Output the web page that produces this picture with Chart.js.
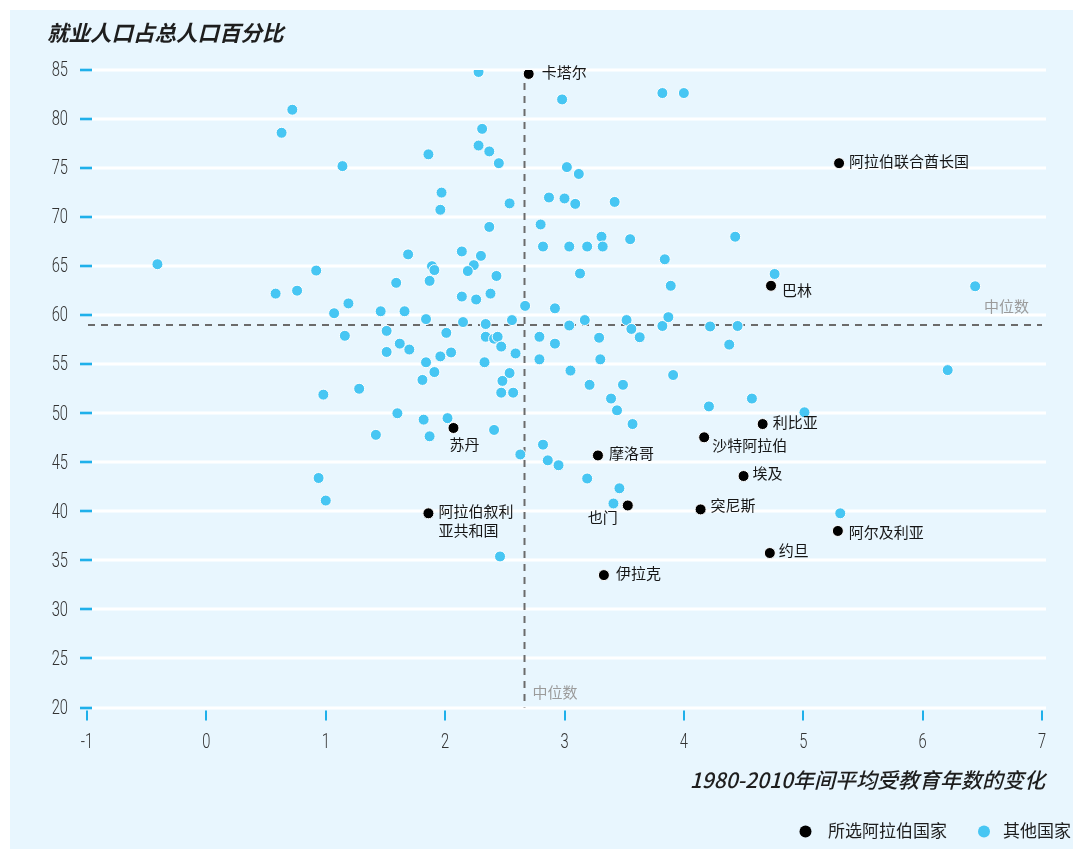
<!DOCTYPE html>
<html>
<head>
<meta charset="utf-8">
<title>就业人口占总人口百分比</title>
<script src="https://cdn.jsdelivr.net/npm/chart.js@4.4.1/dist/chart.umd.min.js"></script>
<style>
  html, body { margin: 0; padding: 0; background: #ffffff; }
  canvas { display: block; }
</style>
</head>
<body>
<canvas id="chart" width="1073" height="849"></canvas>
<script>
// ---- data -------------------------------------------------------------
const arabNames = ['卡塔尔', '阿拉伯联合酋长国', '巴林', '利比亚', '沙特阿拉伯', '摩洛哥', '埃及',
  '突尼斯', '也门', '阿尔及利亚', '约旦', '伊拉克', '苏丹', '阿拉伯叙利亚共和国'];
const arabX = [2.70, 5.30, 4.73, 4.66, 4.17, 3.28, 4.50, 4.14, 3.53, 5.29, 4.72, 3.33, 2.07, 1.86];
const arabY = [84.6, 75.5, 63.0, 48.9, 47.55, 45.7, 43.6, 40.2, 40.6, 38.0, 35.75, 33.5, 48.5, 39.8];

const otherX = [2.28, 0.72, 0.63, 1.14, 2.31, 2.28, 2.37, 2.45, 1.86, 1.97, 1.96, 2.54, 2.37, 2.80, 2.82,
  -0.41, 0.92, 0.58, 0.76, 1.69, 1.89, 1.91, 1.59, 1.87, 2.14, 2.30, 2.24, 2.19, 2.43, 2.14, 2.26, 2.38,
  2.67, 2.92, 1.19, 1.07, 1.46, 1.66, 1.84, 2.15, 2.34, 2.56, 2.79, 1.16, 1.51, 2.01, 2.34, 2.41, 2.44,
  2.47, 2.92, 1.62, 1.70, 1.51, 1.84, 1.96, 2.05, 1.91, 1.81, 2.33, 2.59, 2.79, 2.54, 2.48, 2.47, 2.57,
  0.98, 1.28, 1.60, 1.82, 2.02, 1.42, 1.87, 2.41, 2.63, 2.82, 2.86, 2.95, 0.94, 1.00, 2.46, 2.98, 3.82,
  4.00, 3.02, 3.12, 2.87, 3.00, 3.09, 3.42, 3.04, 3.19, 3.31, 3.32, 3.55, 4.43, 3.84, 3.13, 3.89, 4.76,
  3.04, 3.17, 3.52, 3.56, 3.63, 3.82, 3.87, 4.22, 4.45, 4.38, 3.29, 3.30, 3.05, 3.21, 3.49, 3.91, 3.39,
  3.44, 3.57, 4.21, 4.57, 3.41, 3.46, 3.19, 6.44, 6.21, 5.01, 5.31];
const otherY = [84.8, 80.95, 78.6, 75.2, 79.0, 77.3, 76.7, 75.5, 76.4, 72.5, 70.75, 71.4, 69.0, 69.25, 67.0,
  65.2, 64.55, 62.2, 62.5, 66.2, 65.0, 64.6, 63.3, 63.5, 66.5, 66.05, 65.1, 64.5, 64.0, 61.9, 61.6, 62.2,
  60.95, 60.7, 61.2, 60.2, 60.4, 60.4, 59.6, 59.3, 59.1, 59.5, 57.8, 57.9, 58.4, 58.2, 57.8, 57.6, 57.8,
  56.8, 57.1, 57.1, 56.5, 56.25, 55.2, 55.8, 56.2, 54.2, 53.4, 55.2, 56.1, 55.5, 54.1, 53.3, 52.1, 52.1,
  51.9, 52.5, 50.0, 49.35, 49.5, 47.8, 47.65, 48.3, 45.8, 46.8, 45.2, 44.7, 43.4, 41.1, 35.4, 82.0, 82.65,
  82.65, 75.1, 74.4, 72.0, 71.9, 71.35, 71.55, 67.0, 67.0, 68.0, 67.0, 67.75, 68.0, 65.7, 64.25, 63.0, 64.2,
  58.95, 59.5, 59.5, 58.6, 57.75, 58.9, 59.8, 58.85, 58.9, 57.0, 57.7, 55.5, 54.35, 52.9, 52.9, 53.9, 51.5,
  50.3, 48.9, 50.7, 51.5, 40.8, 42.35, 43.35, 62.95, 54.4, 50.1, 39.8];

const medianX = 2.665;
const medianY = 59.0;

const xTickValues = [-1, 0, 1, 2, 3, 4, 5, 6, 7];
const yTickValues = [20, 25, 30, 35, 40, 45, 50, 55, 60, 65, 70, 75, 80, 85];

const seriesLabels = ['所选阿拉伯国家', '其他国家'];
const yTitle = '就业人口占总人口百分比';
const xTitle = '1980-2010年间平均受教育年数的变化';
const medianLabel = '中位数';

// ---- styling ----------------------------------------------------------
const CJK = "'Noto Sans CJK SC', 'Noto Sans', sans-serif";
const DIGITS = "Roboto, 'Open Sans', sans-serif";
const DIGIT_SQUEEZE = 0.7;          // narrow the tick numerals horizontally
const PANEL = '#e8f6fe';
const TICK_BLUE = '#1fb0ea';
const DOT_BLUE = '#47c6f3';

// where each country name sits relative to its dot (pixels)
const labelPlacement = {
  '卡塔尔': { dx: 13, dy: -1.5 },
  '阿拉伯联合酋长国': { dx: 10, dy: -2 },
  '巴林': { dx: 11, dy: 4.5 },
  '利比亚': { dx: 10, dy: -1.5 },
  '沙特阿拉伯': { dx: 8, dy: 8 },
  '摩洛哥': { dx: 11, dy: -2.5 },
  '埃及': { dx: 9, dy: -3 },
  '突尼斯': { dx: 10, dy: -4 },
  '也门': { dx: -10, dy: 11.5, align: 'right' },
  '阿尔及利亚': { dx: 11, dy: 1 },
  '约旦': { dx: 9, dy: -2.5 },
  '伊拉克': { dx: 12, dy: -1.5 },
  '苏丹': { dx: -4, dy: 16 },
  '阿拉伯叙利亚共和国': { dx: 10, dy: -2.5, wrap: 5, lineGap: 19 }
};

const toPoints = (xs, ys) => xs.map((v, i) => ({ x: v, y: ys[i] }));

// condensed numeral drawn at (px, py) with the given alignment
function drawNumber(ctx, text, px, py, align) {
  ctx.save();
  ctx.translate(px, py);
  ctx.scale(DIGIT_SQUEEZE, 1);
  ctx.textAlign = align;
  ctx.fillText(text, 0, 0);
  ctx.restore();
}

// ---- custom drawing: panel, grid, medians, titles, legend, labels ------
const decorations = {
  id: 'decorations',
  beforeDraw(chart) {
    const { ctx, scales: { x, y } } = chart;
    ctx.save();
    ctx.fillStyle = '#ffffff';
    ctx.fillRect(0, 0, chart.width, chart.height);
    ctx.fillStyle = PANEL;
    ctx.fillRect(10, 10, chart.width - 10, chart.height - 10);

    // horizontal white grid lines
    ctx.strokeStyle = '#ffffff';
    ctx.lineWidth = 3;
    y.ticks.forEach(t => {
      const py = Math.round(y.getPixelForValue(t.value));
      ctx.beginPath();
      ctx.moveTo(x.left + 5, py);
      ctx.lineTo(x.right + 4, py);
      ctx.stroke();
    });

    // blue tick marks
    ctx.strokeStyle = TICK_BLUE;
    ctx.lineWidth = 2.6;
    y.ticks.forEach(t => {
      const py = Math.round(y.getPixelForValue(t.value));
      ctx.beginPath();
      ctx.moveTo(x.left - 7, py);
      ctx.lineTo(x.left + 5, py);
      ctx.stroke();
    });
    ctx.lineWidth = 2;
    x.ticks.forEach(t => {
      const px = Math.round(x.getPixelForValue(t.value));
      ctx.beginPath();
      ctx.moveTo(px, y.bottom + 3);
      ctx.lineTo(px, y.bottom + 13);
      ctx.stroke();
    });

    // tick numerals
    ctx.fillStyle = '#333333';
    ctx.font = `300 21px ${DIGITS}`;
    ctx.textBaseline = 'middle';
    y.ticks.forEach(t => {
      drawNumber(ctx, String(t.value), x.left - 19, y.getPixelForValue(t.value) + 1, 'right');
    });
    x.ticks.forEach(t => {
      drawNumber(ctx, String(t.value), x.getPixelForValue(t.value), y.bottom + 35, 'center');
    });

    // median reference lines
    const mx = x.getPixelForValue(medianX);
    const my = y.getPixelForValue(medianY);
    ctx.strokeStyle = '#6b6b6b';
    ctx.lineWidth = 2;
    ctx.setLineDash([7, 6]);
    ctx.beginPath();
    ctx.moveTo(x.left + 1, my);
    ctx.lineTo(x.right, my);
    ctx.stroke();
    ctx.beginPath();
    ctx.moveTo(mx, y.top + 13);
    ctx.lineTo(mx, y.bottom);
    ctx.stroke();
    ctx.setLineDash([]);

    ctx.fillStyle = '#9b9b9b';
    ctx.font = `15px ${CJK}`;
    ctx.textBaseline = 'middle';
    ctx.textAlign = 'right';
    ctx.fillText(medianLabel, x.right - 13, my - 18.5);
    ctx.textAlign = 'left';
    ctx.fillText(medianLabel, mx + 8, y.bottom - 15.5);

    // axis titles
    ctx.fillStyle = '#1e1e1e';
    ctx.font = `italic bold 21.5px ${CJK}`;
    ctx.textAlign = 'left';
    ctx.fillText(yTitle, 47, 33);
    ctx.font = `italic 500 21px ${CJK}`;
    ctx.textAlign = 'right';
    ctx.fillText(xTitle, x.right + 3, 780);

    // legend
    const items = chart.data.datasets;
    const legendPos = [{ dot: 805.5, text: 828 }, { dot: 984, text: 1003 }];
    ctx.font = `17px ${CJK}`;
    ctx.textAlign = 'left';
    items.forEach((ds, i) => {
      const p = legendPos[i];
      ctx.beginPath();
      ctx.arc(p.dot, 831.5, 6, 0, Math.PI * 2);
      ctx.fillStyle = ds.backgroundColor;
      ctx.fill();
      ctx.fillStyle = '#1e1e1e';
      ctx.fillText(ds.label, p.text, 831);
    });
    ctx.restore();
  },
  afterDatasetsDraw(chart) {
    const { ctx } = chart;
    const meta = chart.getDatasetMeta(0);
    ctx.save();
    ctx.font = `15px ${CJK}`;
    ctx.fillStyle = '#161616';
    ctx.textBaseline = 'middle';
    meta.data.forEach((pt, i) => {
      const name = arabNames[i];
      const p = labelPlacement[name] || { dx: 10, dy: 0 };
      ctx.textAlign = p.align || 'left';
      const tx = pt.x + p.dx;
      const ty = pt.y + p.dy;
      if (p.wrap) {
        ctx.fillText(name.slice(0, p.wrap), tx, ty);
        ctx.fillText(name.slice(p.wrap), tx, ty + p.lineGap);
      } else {
        ctx.fillText(name, tx, ty);
      }
    });
    ctx.restore();
  }
};

new Chart(document.getElementById('chart'), {
  type: 'scatter',
  data: {
    datasets: [
      {
        label: seriesLabels[0],
        data: toPoints(arabX, arabY),
        backgroundColor: '#000000',
        borderColor: '#ffffff',
        borderWidth: 1,
        pointRadius: 5.5
      },
      {
        label: seriesLabels[1],
        data: toPoints(otherX, otherY),
        backgroundColor: DOT_BLUE,
        borderColor: '#ffffff',
        borderWidth: 1,
        pointRadius: 5.5
      }
    ]
  },
  options: {
    responsive: false,
    animation: false,
    events: [],
    layout: { padding: { top: 70, right: 31, bottom: 81.5, left: 0 } },
    plugins: {
      legend: { display: false },
      tooltip: { enabled: false },
      title: { display: false }
    },
    scales: {
      x: {
        type: 'linear',
        min: -1,
        max: 7,
        afterBuildTicks: s => { s.ticks = xTickValues.map(v => ({ value: v })); },
        afterFit: s => { s.height = 60; },
        grid: { display: false, drawTicks: false },
        border: { display: false },
        ticks: { display: false }
      },
      y: {
        type: 'linear',
        min: 20,
        max: 85,
        afterBuildTicks: s => { s.ticks = yTickValues.map(v => ({ value: v })); },
        afterFit: s => { s.width = 87; },
        grid: { display: false, drawTicks: false },
        border: { display: false },
        ticks: { display: false }
      }
    }
  },
  plugins: [decorations]
});
</script>
</body>
</html>
